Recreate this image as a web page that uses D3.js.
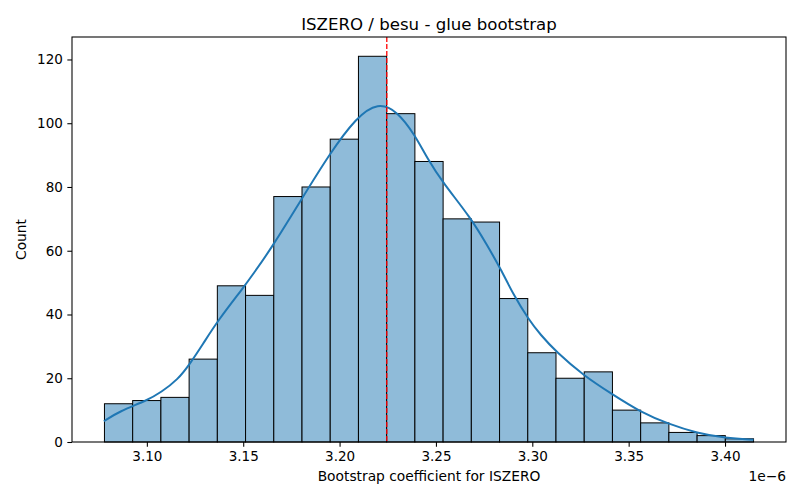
<!DOCTYPE html>
<html lang="en">
    <head>
        <meta charset="utf-8">
        <style>
            body { margin: 0; background: #fff; }
            text { font-family: "DejaVu Sans", sans-serif; fill: #000; }
            .bar { fill: #8fbbd9; stroke: #000; stroke-width: 1px; }
            .kde { fill: none; stroke: #1f77b4; stroke-width: 2px; }
            .axis path, .axis line { stroke: #000; stroke-width: 1.07px; }
            .axis text { font-size: 13.5px; }
        </style>
        <script src="https://d3js.org/d3.v7.min.js"></script>
        <title>ISZERO / besu - glue bootstrap</title>
    </head>
    <body>
        <div id="chart"></div>
        <script>
            // histogram counts (23 bins) between binMin and binMax, values in units of 1e-6
            var counts = [12, 13, 14, 26, 49, 46, 77, 80, 95, 121, 103, 88, 70, 69, 45, 28, 20, 22, 10, 6, 3, 2, 1];
            var binMin = 3.0780, binMax = 3.4148;

            // kde curve (x in 1e-6, y in counts)
            var kdeX = [3.0777, 3.0856, 3.1000, 3.1074, 3.1161, 3.1221, 3.1292, 3.1366, 3.1503, 3.1553,
                        3.1644, 3.1799, 3.1948, 3.2086, 3.2200, 3.2300, 3.2392, 3.2456, 3.2535, 3.2680,
                        3.2767, 3.2835, 3.2905, 3.2979, 3.3043, 3.3122, 3.3267, 3.3412, 3.3561, 3.3710,
                        3.3855, 3.4002, 3.4148];
            var kdeY = [6.5, 9.6, 13.0, 15.6, 19.6, 24.3, 30.8, 37.9, 48.6, 52.8,
                        60.6, 75.8, 90.4, 101.8, 106.6, 103.8, 96.2, 88.9, 81.4, 70.4,
                        61.6, 54.4, 45.9, 38.6, 33.6, 28.4, 20.8, 15.1, 9.4, 5.6,
                        2.8, 1.25, 0.7];

            var meanValue = 3.2245;

            var xTicks = [3.10, 3.15, 3.20, 3.25, 3.30, 3.35, 3.40];
            var yTicks = [0, 20, 40, 60, 80, 100, 120];

            var W = 800, H = 500;
            var margin = {top: 37, right: 14, bottom: 58, left: 72};
            var width = W - margin.left - margin.right,
                height = H - margin.top - margin.bottom;

            var svg = d3.select("#chart")
                .append("svg")
                    .attr("width", W)
                    .attr("height", H);
            var g = svg.append("g")
                .attr("transform", "translate(" + margin.left + "," + margin.top + ")");

            var pad = 0.05 * (binMax - binMin);
            var x = d3.scaleLinear()
                .domain([binMin - pad, binMax + pad])
                .range([0, width]);
            var y = d3.scaleLinear()
                .domain([0, d3.max(counts) * 1.05])
                .range([height, 0]);

            var binW = (binMax - binMin) / counts.length;
            var bins = counts.map(function(c, i) {
                return {x0: binMin + i * binW, x1: binMin + (i + 1) * binW, n: c};
            });

            g.selectAll("rect.bar")
                .data(bins)
                .enter().append("rect")
                    .attr("class", "bar")
                    .attr("x", function(d) { return x(d.x0); })
                    .attr("y", function(d) { return y(d.n); })
                    .attr("width", function(d) { return x(d.x1) - x(d.x0); })
                    .attr("height", function(d) { return y(0) - y(d.n); });

            var kde = kdeX.map(function(v, i) { return [v, kdeY[i]]; });
            var line = d3.line()
                .x(function(d) { return x(d[0]); })
                .y(function(d) { return y(d[1]); })
                .curve(d3.curveBasis);
            g.append("path")
                .datum(kde)
                .attr("class", "kde")
                .attr("d", line);

            g.append("line")
                .attr("x1", x(meanValue)).attr("x2", x(meanValue))
                .attr("y1", 0).attr("y2", height)
                .attr("stroke", "red")
                .attr("stroke-width", 1.3)
                .attr("stroke-dasharray", "5,2");

            // frame
            g.append("rect")
                .attr("width", width).attr("height", height)
                .attr("fill", "none")
                .attr("stroke", "#000")
                .attr("stroke-width", 1.07);

            var xAxis = g.append("g")
                .attr("class", "axis")
                .attr("transform", "translate(0," + height + ")")
                .call(d3.axisBottom(x).tickValues(xTicks).tickFormat(d3.format(".2f"))
                    .tickSize(4.67).tickPadding(4.5).tickSizeOuter(0));
            xAxis.select(".domain").remove();

            var yAxis = g.append("g")
                .attr("class", "axis")
                .call(d3.axisLeft(y).tickValues(yTicks).tickSize(4.67).tickPadding(4.5).tickSizeOuter(0));
            yAxis.select(".domain").remove();

            svg.append("text")
                .attr("x", margin.left + width / 2)
                .attr("y", 29.5)
                .attr("text-anchor", "middle")
                .style("font-size", "16.6px")
                .text("ISZERO / besu - glue bootstrap");

            svg.append("text")
                .attr("x", margin.left + width / 2)
                .attr("y", 481)
                .attr("text-anchor", "middle")
                .style("font-size", "13.8px")
                .text("Bootstrap coefficient for ISZERO");

            svg.append("text")
                .attr("x", margin.left + width)
                .attr("y", 481)
                .attr("text-anchor", "end")
                .style("font-size", "13.8px")
                .text("1e\u22126");

            svg.append("text")
                .attr("transform", "translate(26," + (margin.top + height / 2) + ") rotate(-90)")
                .attr("text-anchor", "middle")
                .style("font-size", "13.8px")
                .text("Count");
        </script>
    </body>
</html>
